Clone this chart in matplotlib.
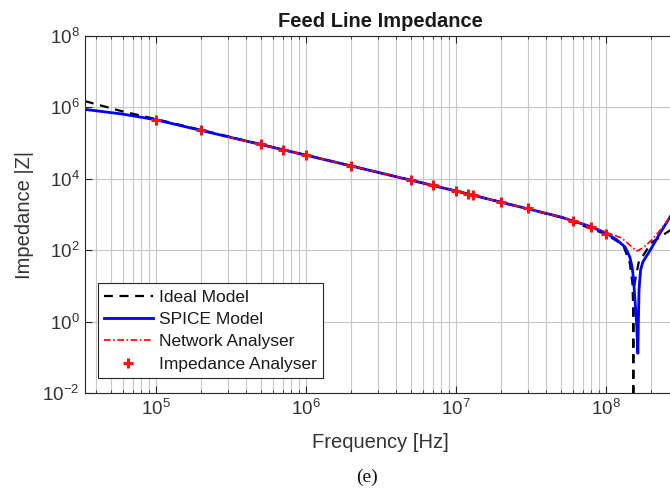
import matplotlib.pyplot as plt
from matplotlib.ticker import LogLocator, NullLocator, NullFormatter

plt.rcParams['font.family'] = ['Liberation Sans', 'DejaVu Sans']
plt.rcParams['mathtext.default'] = 'regular'

# |Z| in ohms against frequency in Hz
ideal_freq = [3.36e4, 6e4, 1e5, 1e6, 1e7, 5e7, 1e8, 1.3e8, 1.44e8, 1.5e8,
              1.515e8, 1.52e8, 1.525e8, 1.55e8, 1.65e8, 2e8, 2.67e8, 2.9e8]
ideal_z = [1.5e6, 7.7e5, 4.7e5, 4.6e4, 4.6e3, 830, 280, 140, 44, 12,
           3, 1e-3, 3, 12, 45, 160, 360, 420]

spice_freq = [3.36e4, 6e4, 1e5, 1e6, 1e7, 5e7, 8e7, 1e8, 1.18e8, 1.34e8,
              1.44e8, 1.49e8, 1.52e8, 1.56e8, 1.6e8, 1.63e8, 1.645e8, 1.66e8,
              1.7e8, 1.76e8, 1.97e8, 2.29e8, 2.67e8, 2.9e8]
spice_z = [8.8e5, 6.5e5, 4.5e5, 4.6e4, 4.55e3, 850, 450, 300, 195, 123,
           65, 35, 18, 4, 0.9, 0.13, 1.2, 7.7,
           28, 47, 100, 300, 850, 1.5e3]

net_freq = [3e5, 1e6, 1e7, 5e7, 8e7, 1e8, 1.27e8, 1.44e8, 1.6e8, 1.76e8,
            2.02e8, 2.29e8, 2.67e8, 2.9e8]
net_z = [1.5e5, 4.6e4, 4.6e3, 840, 460, 320, 220, 140, 95, 115,
         195, 360, 850, 1.4e3]

ia_freq = [1e5, 2e5, 5e5, 7e5, 1e6, 2e6, 5e6, 7e6, 1e7, 1.2e7, 1.3e7,
           2e7, 3e7, 6e7, 8e7, 1e8]
ia_z = [4.5e5, 2.3e5, 9.3e4, 6.6e4, 4.6e4, 2.3e4, 9.5e3, 6.6e3, 4.5e3,
        3.8e3, 3.5e3, 2.2e3, 1.5e3, 660, 440, 290]

txt = '#333333'

fig = plt.figure(figsize=(6.7, 4.92), dpi=100)
ax = fig.add_axes([0.1269, 0.2012, 0.8806, 0.7256])

ax.plot(ideal_freq, ideal_z, color='k', linestyle='--', dashes=(4, 3), lw=1.6, label='Ideal Model')
ax.plot(spice_freq, spice_z, color='#0000ff', lw=2.0, label='SPICE Model')
ax.plot(net_freq, net_z, color='#ff0000', linestyle=(0, (4, 1.5, 1, 1.5)), lw=1.2, label='Network Analyser')
ax.plot(ia_freq, ia_z, linestyle='none', marker='+', ms=7, mew=2.2, color='#ff1010', label='Impedance Analyser')

ax.set_xscale('log')
ax.set_yscale('log')
ax.set_xlim(3.363e4, 2.884e8)
ax.set_ylim(1e-2, 1e8)

ax.set_xticks([1e5, 1e6, 1e7, 1e8])
ax.xaxis.set_minor_locator(LogLocator(base=10, subs=range(2, 10)))
ax.xaxis.set_minor_formatter(NullFormatter())
ax.set_yticks([1e-2, 1e0, 1e2, 1e4, 1e6, 1e8])
ax.yaxis.set_minor_locator(NullLocator())

ax.grid(True, which='major', color='#c8c8c8', lw=0.8)
ax.grid(True, which='minor', axis='x', color='#c8c8c8', lw=0.8)
ax.set_axisbelow(True)

ax.tick_params(which='both', direction='in', top=True, right=False, colors='#262626',
               labelcolor=txt, labelsize=13.5)
ax.tick_params(which='major', length=5)
ax.tick_params(which='minor', length=2.5)
ax.tick_params(axis='y', pad=4)
ax.tick_params(axis='x', pad=4)
for side in ['left', 'bottom', 'top']:
    ax.spines[side].set_color('#262626')
    ax.spines[side].set_linewidth(0.8)
ax.spines['right'].set_visible(False)

ax.set_title('Feed Line Impedance', fontsize=14.5, fontweight='bold', color='#1a1a1a', pad=6.5)
ax.set_xlabel('Frequency [Hz]', fontsize=14.5, color=txt, va='center')
ax.xaxis.set_label_coords(0.5, -0.14)
ax.set_ylabel('Impedance |Z|', fontsize=14.5, color=txt, va='center')
ax.yaxis.set_label_coords(-0.102, 0.5)

leg = ax.legend(loc='lower left', bbox_to_anchor=(0.022, 0.042), borderaxespad=0,
                fontsize=12.5, fancybox=False, framealpha=1, edgecolor='#262626',
                handlelength=2.8, handletextpad=0.35, labelspacing=0.42,
                borderpad=0.35)
leg.get_frame().set_linewidth(0.8)
for t in leg.get_texts():
    t.set_color('#1a1a1a')

fig.text(367 / 670, 1 - 477 / 492, '(e)', ha='center', va='center',
         family=['Liberation Serif', 'DejaVu Serif'], fontsize=14, color='#111111')

fig.savefig('out.png', dpi=100)
